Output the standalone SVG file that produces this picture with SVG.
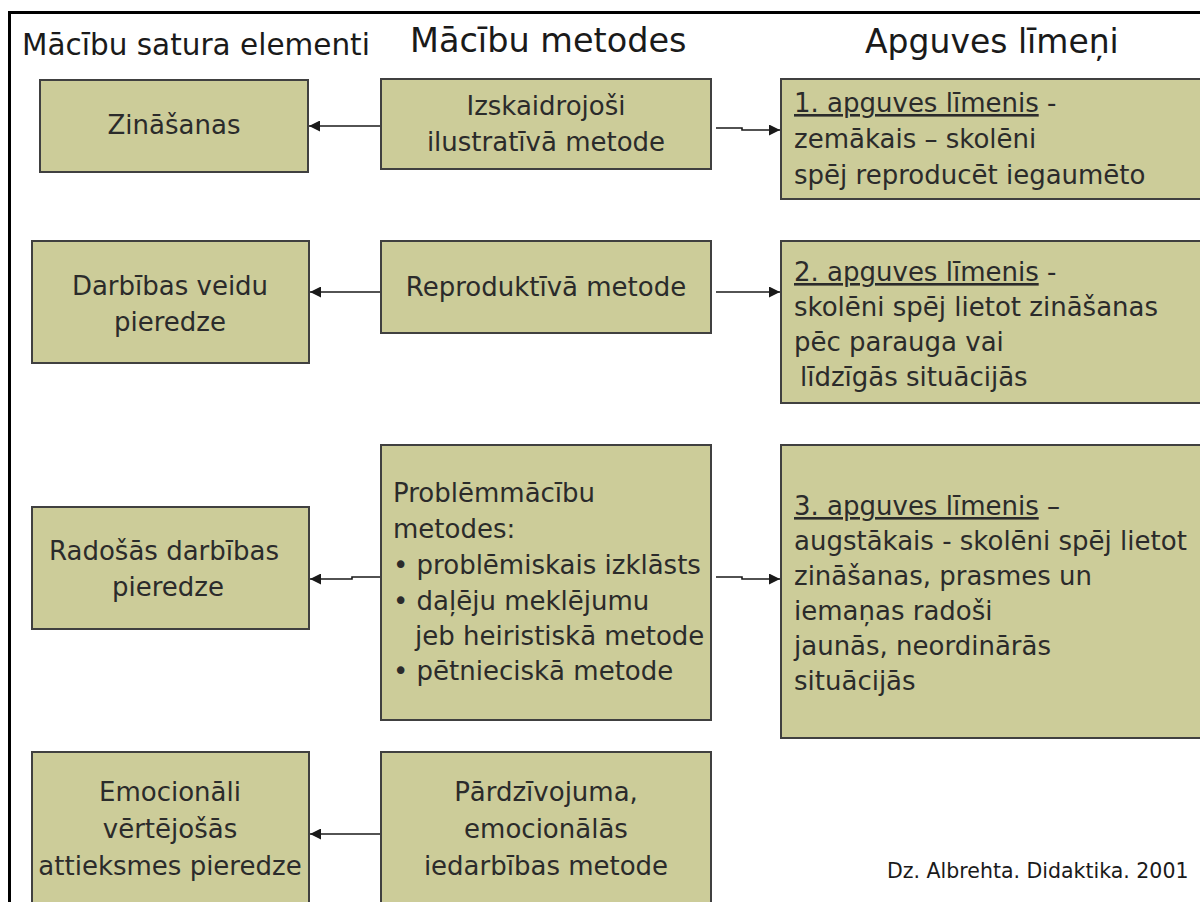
<svg xmlns="http://www.w3.org/2000/svg" width="1200" height="902" viewBox="0 0 1200 902">
<defs>
<style>
.box{fill:#CCCC99;stroke:#404040;stroke-width:2}
.t{font-family:"DejaVu Sans",Verdana,sans-serif;font-size:26px;fill:#2b2b2b}
.c{text-anchor:middle}
.h{font-family:"DejaVu Sans",Verdana,sans-serif;fill:#1a1a1a}
.con{fill:none;stroke:#1a1a1a;stroke-width:1.6}
</style>
<marker id="ah" viewBox="0 0 10 10" refX="10" refY="5" markerWidth="11" markerHeight="11" markerUnits="userSpaceOnUse" orient="auto">
<path d="M0,0 L10,5 L0,10 z" fill="#1a1a1a"/>
</marker>
</defs>
<rect width="1200" height="902" fill="#ffffff"/>
<rect x="9.5" y="12.5" width="1210" height="910" fill="none" stroke="#000" stroke-width="3"/>
<g id="headers">
<text class="h" x="22" y="55" font-size="29.5">Mācību satura elementi</text>
<text class="h" x="410" y="52" font-size="33.5">Mācību metodes</text>
<text class="h" x="865" y="53" font-size="33">Apguves līmeņi</text>
</g>
<g id="connectors">
<line class="con" x1="381" y1="126" x2="309" y2="126" marker-end="url(#ah)"/>
<path class="con" d="M716,128 H742 V130 H780" marker-end="url(#ah)"/>
<line class="con" x1="381" y1="292" x2="310" y2="292" marker-end="url(#ah)"/>
<line class="con" x1="716" y1="292" x2="780" y2="292" marker-end="url(#ah)"/>
<path class="con" d="M381,577 H352 V579 H310" marker-end="url(#ah)"/>
<path class="con" d="M716,577 H742 V579 H780" marker-end="url(#ah)"/>
<line class="con" x1="381" y1="834" x2="310" y2="834" marker-end="url(#ah)"/>
</g>
<g id="n-zinasanas">
<rect class="box" x="40" y="80" width="268" height="92"/>
<text class="t c" x="174" y="134">Zināšanas</text>
</g>
<g id="n-izskaidrojosi">
<rect class="box" x="381" y="79" width="330" height="90"/>
<text class="t c" x="546" y="115">Izskaidrojoši</text>
<text class="t c" x="546" y="151">ilustratīvā metode</text>
</g>
<g id="n-level1">
<rect class="box" x="781" y="79" width="440" height="120"/>
<text class="t" x="794" y="112"><tspan text-decoration="underline">1. apguves līmenis</tspan> -</text>
<text class="t" x="794" y="148">zemākais – skolēni</text>
<text class="t" x="794" y="184">spēj reproducēt iegaumēto</text>
</g>
<g id="n-darbibas">
<rect class="box" x="32" y="241" width="277" height="122"/>
<text class="t c" x="170" y="295">Darbības veidu</text>
<text class="t c" x="170" y="331">pieredze</text>
</g>
<g id="n-reproduktiva">
<rect class="box" x="381" y="241" width="330" height="92"/>
<text class="t c" x="546" y="296">Reproduktīvā metode</text>
</g>
<g id="n-level2">
<rect class="box" x="781" y="241" width="440" height="162"/>
<text class="t" x="794" y="281"><tspan text-decoration="underline">2. apguves līmenis</tspan> -</text>
<text class="t" x="794" y="316">skolēni spēj lietot zināšanas</text>
<text class="t" x="794" y="351">pēc parauga vai</text>
<text class="t" x="800" y="386">līdzīgās situācijās</text>
</g>
<g id="n-radosas">
<rect class="box" x="32" y="507" width="277" height="122"/>
<text class="t c" x="164" y="560">Radošās darbības</text>
<text class="t c" x="168" y="596">pieredze</text>
</g>
<g id="n-problem">
<rect class="box" x="381" y="445" width="330" height="275"/>
<text class="t" x="393" y="502">Problēmmācību</text>
<text class="t" x="393" y="538">metodes:</text>
<text class="t" x="393" y="574">• problēmiskais izklāsts</text>
<text class="t" x="393" y="610">• daļēju meklējumu</text>
<text class="t" x="415" y="645">jeb heiristiskā metode</text>
<text class="t" x="393" y="680">• pētnieciskā metode</text>
</g>
<g id="n-level3">
<rect class="box" x="781" y="445" width="440" height="293"/>
<text class="t" x="794" y="515"><tspan text-decoration="underline">3. apguves līmenis</tspan> –</text>
<text class="t" x="794" y="550">augstākais - skolēni spēj lietot</text>
<text class="t" x="794" y="585">zināšanas, prasmes un</text>
<text class="t" x="794" y="620">iemaņas radoši</text>
<text class="t" x="794" y="655">jaunās, neordinārās</text>
<text class="t" x="794" y="690">situācijās</text>
</g>
<g id="n-emocionali">
<rect class="box" x="32" y="752" width="277" height="170"/>
<text class="t c" x="170" y="801">Emocionāli</text>
<text class="t c" x="170" y="838">vērtējošās</text>
<text class="t c" x="170" y="875">attieksmes pieredze</text>
</g>
<g id="n-pardzivojuma">
<rect class="box" x="381" y="752" width="330" height="170"/>
<text class="t c" x="546" y="801">Pārdzīvojuma,</text>
<text class="t c" x="546" y="838">emocionālās</text>
<text class="t c" x="546" y="875">iedarbības metode</text>
</g>
<g id="citation">
<text class="h" x="887" y="878" font-size="20.5">Dz. Albrehta. Didaktika. 2001</text>
</g>
</svg>
